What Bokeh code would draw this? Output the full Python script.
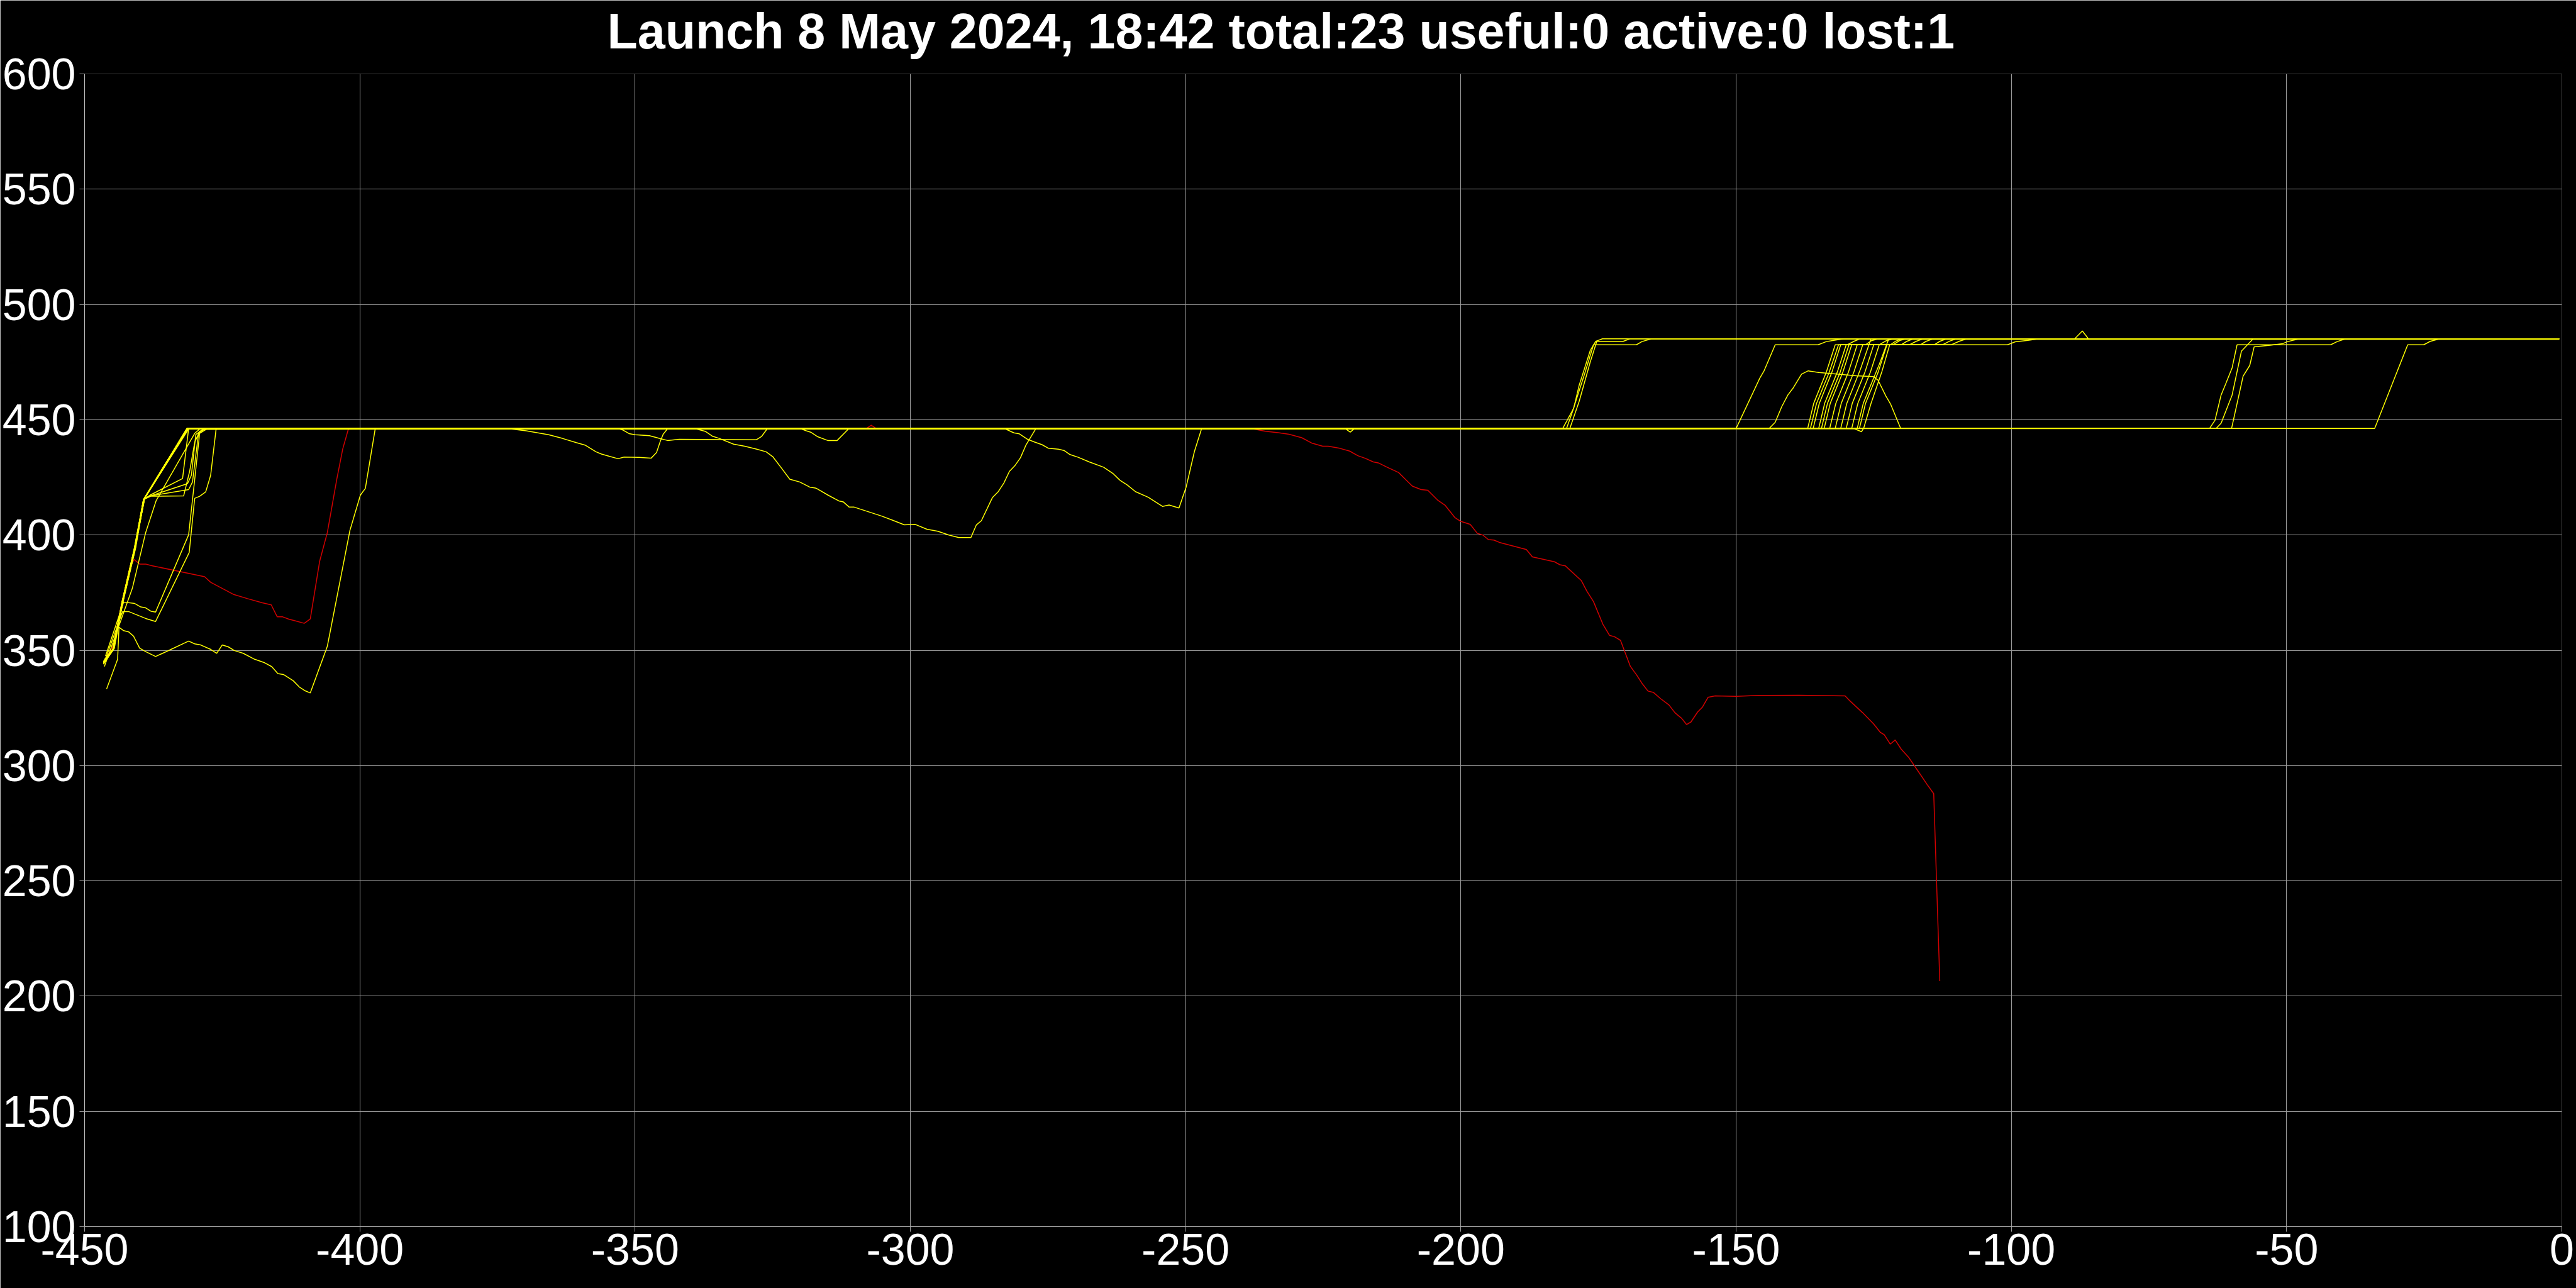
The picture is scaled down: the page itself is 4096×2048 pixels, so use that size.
from bokeh.plotting import figure
from bokeh.models import Range1d, FixedTicker, Title
from bokeh.embed import file_html
from bokeh.resources import INLINE

TITLE = "Launch 8 May 2024, 18:42 total:23 useful:0 active:0 lost:1"
X_TICKS = [-450, -400, -350, -300, -250, -200, -150, -100, -50, 0]
X_LABELS = ["-450", "-400", "-350", "-300", "-250", "-200", "-150", "-100", "-50", "0"]
Y_TICKS = [100, 150, 200, 250, 300, 350, 400, 450, 500, 550, 600]
Y_LABELS = ["100", "150", "200", "250", "300", "350", "400", "450", "500", "550", "600"]

# ---- lost object (red) ----
lost_x = [-446.3, -444.8, -443.3, -441.8, -441.0, -440.0, -438.9, -437.8, -428.2, -427.1, -423.0, -420.4,
          -417.7, -416.1, -415.0, -414.0, -412.9, -411.8, -410.1, -409.0, -407.3, -405.9, -404.2, -403.1,
          -402.1, -401.5, -308.0, -307.1, -306.2, -237.9, -235.5, -233.2, -231.2, -228.9, -227.1, -225.1,
          -224.1, -222.0, -220.2, -218.7, -217.4, -215.9, -214.9, -213.4, -211.3, -210.0, -208.8, -207.2,
          -206.0, -204.2, -202.9, -201.1, -200.1, -198.3, -197.0, -196.0, -195.0, -194.0, -193.0, -188.1,
          -187.0, -183.0, -182.0, -181.0, -178.1, -177.1, -175.9, -174.2, -173.0, -172.1, -171.0, -169.2,
          -168.1, -167.1, -166.0, -165.0, -163.7, -162.2, -161.1, -159.9, -159.0, -158.2, -157.0, -156.1,
          -155.1, -153.8, -150.0, -146.0, -138.6, -130.2, -129.3, -127.0, -125.0, -123.8, -123.1, -122.0,
          -121.1, -120.0, -118.6, -115.3, -114.1, -113.0]
lost_y = [346.0, 352.0, 370.0, 385.8, 389.4, 387.4, 387.4, 386.7, 381.9, 379.5, 374.3, 372.4,
          370.6, 369.7, 364.5, 364.5, 363.5, 362.8, 361.7, 363.6, 388.6, 401.1, 424.0, 437.4,
          445.8, 446.2, 446.2, 447.6, 446.2, 446.1, 445.0, 444.4, 443.7, 442.2, 439.9, 438.5,
          438.5, 437.6, 436.4, 434.4, 433.3, 431.7, 431.2, 429.4, 427.1, 424.0, 421.2, 419.7,
          419.4, 415.1, 413.0, 407.6, 406.0, 404.6, 400.7, 400.0, 398.0, 397.8, 396.8, 393.7,
          390.5, 388.4, 387.1, 386.6, 380.2, 375.6, 371.1, 361.3, 356.5, 355.9, 354.3, 343.0,
          339.4, 335.7, 332.3, 331.7, 329.0, 326.3, 322.9, 320.5, 317.8, 318.9, 323.2, 325.4,
          329.6, 330.2, 330.0, 330.4, 330.5, 330.2, 328.0, 322.9, 318.0, 314.4, 313.4, 309.3,
          311.1, 307.1, 303.4, 291.8, 287.8, 206.5]

# ---- objects (yellow) ----
y1_x = [-446.6, -444.8, -443.1, -440.9, -439.2, -431.3, -372.9, -369.8, -365.7, -363.2, -360.7, -359.1,
        -357.1, -356.1, -354.8, -353.1, -352.0, -349.4, -347.1, -346.1, -345.4, -344.9, -344.1, -181.5,
        -179.5, -178.5, -176.5, -175.5, -174.3, -88.5, -87.1, -86.0, -0.5]
y1_y = [345.0, 350.4, 371.4, 394.4, 415.6, 446.2, 446.1, 445.2, 443.5, 441.9, 440.1, 439.0,
        436.1, 435.1, 434.2, 433.1, 433.8, 433.7, 433.3, 435.8, 440.8, 443.7, 446.1, 446.2,
        455.0, 465.0, 480.0, 484.0, 485.1, 485.1, 488.5, 485.1, 485.1]

y2_x = [-446.5, -444.9, -443.0, -440.8, -439.3, -431.4, -353.0, -352.2, -351.1, -350.0, -347.4, -345.6,
        -344.1, -342.0, -328.0, -327.0, -326.0, -137.0, -135.9, -133.6, -132.0, -129.8, -128.6, -127.5, -0.5]
y2_y = [344.2, 350.0, 371.0, 394.0, 415.2, 446.3, 446.1, 445.5, 444.0, 443.5, 443.1, 441.9,
        441.0, 441.5, 441.3, 442.8, 446.1, 446.2, 457.1, 470.7, 482.5, 482.5, 484.0, 485.1, 485.1]

y3_x = [-446.4, -444.7, -443.0, -440.8, -439.2, -438.1, -432.2, -431.1, -180.8, -179.8, -177.5, -175.9,
        -168.1, -167.1, -165.4, -0.5]
y3_y = [346.0, 351.0, 372.0, 395.0, 415.6, 417.3, 424.5, 446.2, 446.2, 453.0, 470.0, 482.5,
        482.5, 483.9, 485.1, 485.0]

y4_x = [-446.5, -444.8, -443.1, -440.9, -439.1, -438.0, -431.3, -430.6, -429.8, -428.5, -319.9, -318.9,
        -318.1, -316.8, -315.0, -313.3, -311.2, -136.5, -135.4, -133.1, -131.4, -126.5, -125.5, -124.3, -0.5]
y4_y = [344.8, 350.2, 371.2, 394.2, 415.8, 417.0, 422.3, 425.9, 443.6, 445.8, 446.1, 445.2,
        444.6, 442.6, 441.0, 441.0, 446.1, 446.2, 457.0, 470.5, 482.5, 482.5, 484.2, 485.0, 485.0]

y5_x = [-446.3, -444.6, -443.0, -440.7, -439.2, -438.0, -431.1, -430.4, -429.3, -428.2, -150.0, -145.7,
        -144.9, -142.9, -135.1, -133.6, -132.1, -130.5, -0.5]
y5_y = [345.5, 350.8, 371.6, 394.6, 415.5, 417.0, 419.7, 423.0, 444.1, 446.0, 446.2, 468.0,
        471.3, 482.5, 482.5, 483.9, 484.5, 485.1, 485.1]

y6_x = [-446.6, -444.9, -443.2, -440.9, -439.3, -438.0, -432.0, -430.9, -430.0, -429.1, -427.8, -339.0,
        -337.2, -335.9, -334.7, -332.1, -330.1, -328.0, -326.2, -325.0, -323.4, -321.9, -320.1, -318.3,
        -317.1, -314.8, -313.0, -312.2, -311.1, -310.2, -305.2, -303.2, -301.1, -299.1, -297.0, -295.0,
        -293.0, -291.2, -289.0, -288.0, -287.1, -285.1, -284.0, -283.0, -282.0, -281.0, -280.0, -279.0,
        -277.2, -136.0, -134.9, -132.6, -131.0, -121.5, -120.3, -119.2, -0.5]
y6_y = [344.5, 350.0, 371.0, 394.0, 415.4, 416.8, 417.0, 427.8, 440.2, 445.0, 446.0, 446.1,
        444.9, 442.8, 441.9, 439.4, 438.5, 437.3, 436.1, 434.0, 429.0, 424.2, 423.0, 420.8,
        420.3, 417.1, 414.8, 414.4, 412.1, 412.1, 408.2, 406.4, 404.4, 404.6, 402.5, 401.6,
        400.0, 398.9, 398.9, 404.4, 406.2, 416.2, 418.9, 422.6, 427.6, 430.1, 433.5, 439.0,
        446.1, 446.2, 457.0, 470.6, 482.5, 482.5, 484.3, 485.1, 485.1]

y7_x = [-446.2, -442.9, -440.9, -439.8, -438.9, -437.9, -437.1, -431.1, -430.0, -429.1, -427.8, -135.0,
        -133.9, -131.6, -130.0, -120.0, -119.0, -117.8, -0.5]
y7_y = [347.5, 370.9, 370.3, 368.8, 368.4, 366.9, 366.6, 400.1, 424.0, 444.1, 446.0, 446.2,
        457.2, 470.8, 482.5, 482.5, 484.0, 485.1, 485.1]

y8_x = [-446.3, -443.1, -442.0, -438.9, -437.1, -431.0, -430.0, -429.1, -428.0, -427.1, -426.1, -282.8,
        -281.2, -280.2, -278.7, -277.4, -276.1, -274.9, -273.1, -272.1, -271.0, -269.5, -267.5, -264.9,
        -263.2, -261.9, -260.6, -259.1, -256.8, -254.2, -253.0, -251.2, -249.9, -248.4, -247.1, -134.5,
        -133.4, -131.1, -129.5, -116.5, -115.5, -114.3, -0.5]
y8_y = [345.6, 366.8, 366.8, 363.8, 362.5, 392.4, 415.9, 416.8, 418.7, 425.9, 446.2, 446.1,
        444.3, 443.9, 441.5, 440.3, 439.2, 437.6, 437.2, 436.7, 434.9, 433.7, 431.7, 429.4,
        426.7, 423.7, 421.7, 418.8, 416.4, 412.4, 413.0, 411.7, 420.8, 436.2, 446.1, 446.2,
        457.1, 470.6, 482.5, 482.5, 484.0, 485.0, 485.0]

y9_x = [-446.0, -444.0, -443.75, -442.9, -442.0, -441.1, -440.0, -438.9, -437.1, -435.2, -431.1, -430.0,
        -428.9, -427.1, -426.0, -425.0, -423.9, -422.8, -421.2, -419.1, -417.3, -416.0, -414.9, -413.8,
        -412.1, -411.0, -409.9, -409.0, -405.9, -401.8, -399.9, -399.0, -397.2, -34.0, -28.0, -25.1,
        -23.9, -22.2, -0.5]
y9_y = [333.2, 346.1, 360.0, 358.5, 358.0, 356.1, 350.9, 349.4, 347.3, 349.4, 354.0, 352.8,
        352.3, 350.4, 348.7, 352.3, 351.5, 349.9, 348.7, 346.1, 344.6, 342.9, 339.9, 339.4,
        336.8, 334.1, 332.4, 331.5, 351.8, 402.0, 417.3, 420.2, 446.2, 446.2, 482.5, 482.5,
        484.0, 485.1, 485.1]

y10_x = [-446.4, -441.3, -438.9, -437.0, -430.0, -429.0, -180.2, -178.5, -176.5, -175.3, -170.5, -169.3, -0.5]
y10_y = [343.0, 377.1, 401.1, 414.9, 444.1, 446.1, 446.2, 458.0, 475.0, 484.0, 484.0, 485.1, 485.1]

y11_x = [-446.5, -444.8, -443.1, -440.9, -439.2, -431.2, -144.0, -142.9, -141.7, -140.6, -139.6, -138.1,
         -136.9, -135.0, -132.7, -128.2, -125.1, -124.2, -122.8, -121.9, -120.1, -64.0, -63.0, -61.9,
         -61.1, -59.9, -59.0, -42.0, -40.8, -39.3, -0.5]
y11_y = [345.3, 350.6, 371.5, 394.5, 415.7, 446.1, 446.2, 448.9, 455.7, 460.7, 463.9, 469.8,
         471.2, 470.5, 470.0, 469.1, 468.7, 467.1, 460.3, 456.6, 446.2, 446.2, 449.8, 460.7,
         465.3, 472.5, 482.5, 482.5, 483.9, 485.1, 485.1]

y12_x = [-446.4, -444.7, -443.0, -440.8, -439.1, -431.0, -221.0, -220.1, -219.3, -62.8, -61.9, -59.9,
         -58.2, -56.1, -0.5]
y12_y = [345.8, 351.0, 371.8, 394.8, 415.9, 446.3, 446.2, 444.6, 446.2, 446.2, 448.5, 460.7,
         479.8, 485.0, 485.0]

y13_x = [-446.6, -444.9, -443.2, -441.0, -439.3, -431.4, -60.0, -57.9, -56.7, -55.9, -53.0, -50.7,
         -49.8, -47.7, -0.5]
y13_y = [344.0, 349.8, 370.8, 393.8, 415.3, 446.0, 446.2, 468.9, 473.5, 481.6, 482.3, 483.0,
         483.9, 485.1, 485.1]

y14_x = [-446.5, -444.8, -443.1, -440.9, -439.2, -431.3, -134.0, -132.9, -130.6, -129.0, -114.0, -113.0, -111.8, -0.5]
y14_y = [345.2, 350.5, 371.4, 394.4, 415.6, 446.2, 446.2, 457.1, 470.7, 482.5, 482.5, 484.0, 485.1, 485.1]

y15_x = [-446.5, -444.8, -443.1, -440.9, -439.2, -431.3, -133.0, -131.9, -129.6, -128.0, -110.9, -109.5, -108.1, -0.5]
y15_y = [344.7, 350.2, 371.2, 394.2, 415.4, 446.1, 446.2, 457.0, 470.6, 482.5, 482.5, 484.0, 485.1, 485.1]

y16_x = [-446.4, -444.7, -443.0, -440.8, -439.2, -431.2, -132.0, -130.9, -128.6, -127.0, -100.7, -99.3, -97.0, -95.0, -0.5]
y16_y = [345.4, 350.7, 371.6, 394.6, 415.8, 446.2, 446.2, 457.1, 470.7, 482.5, 482.5, 483.8, 484.4, 485.1, 485.1]

y17_x = [-446.6, -444.9, -443.1, -440.9, -439.3, -431.4, -131.0, -129.9, -127.4, -125.5, -0.5]
y17_y = [344.9, 350.3, 371.3, 394.3, 415.5, 446.2, 446.2, 457.0, 472.0, 485.0, 485.0]

y18_x = [-446.5, -444.8, -443.1, -440.9, -439.2, -431.3, -130.0, -128.9, -126.6, -125.0, -124.0, -122.8, -121.5, -0.5]
y18_y = [345.1, 350.4, 371.3, 394.3, 415.6, 446.3, 446.2, 457.1, 470.6, 482.5, 482.5, 484.2, 485.1, 485.1]

y19_x = [-446.4, -444.7, -443.0, -440.8, -439.1, -431.2, -129.0, -127.9, -125.6, -124.0, -122.0, -121.0, -119.8, -0.5]
y19_y = [345.6, 350.9, 371.7, 394.7, 415.8, 446.1, 446.2, 457.0, 470.7, 482.5, 482.5, 484.1, 485.1, 485.1]

y20_x = [-446.6, -444.9, -443.2, -441.0, -439.3, -431.4, -128.0, -126.9, -124.0, -122.3, -0.5]
y20_y = [344.3, 349.9, 370.9, 393.9, 415.2, 446.2, 446.2, 457.1, 474.0, 484.9, 484.9]

y21_x = [-446.5, -444.8, -443.1, -440.9, -439.2, -431.3, -127.6, -126.5, -124.2, -122.6, -118.5, -117.3, -116.0, -0.5]
y21_y = [345.0, 350.3, 371.3, 394.3, 415.5, 446.1, 446.2, 457.0, 470.6, 482.5, 482.5, 484.0, 485.1, 485.1]

y22_x = [-446.5, -444.8, -443.1, -440.9, -439.2, -431.3, -128.5, -127.2, -126.8, -125.5, -123.5, -122.1,
         -112.5, -111.2, -110.0, -0.5]
y22_y = [345.3, 350.6, 371.5, 394.5, 415.7, 446.2, 446.1, 444.8, 446.5, 457.0, 471.0, 482.5,
         482.5, 484.1, 485.1, 485.1]

tracks = [
    (y1_x, y1_y), (y2_x, y2_y), (y3_x, y3_y), (y4_x, y4_y), (y5_x, y5_y), (y6_x, y6_y),
    (y7_x, y7_y), (y8_x, y8_y), (y9_x, y9_y), (y10_x, y10_y), (y11_x, y11_y), (y12_x, y12_y),
    (y13_x, y13_y), (y14_x, y14_y), (y15_x, y15_y), (y16_x, y16_y), (y17_x, y17_y), (y18_x, y18_y),
    (y19_x, y19_y), (y20_x, y20_y), (y21_x, y21_y), (y22_x, y22_y),
]

p = figure(width=4096, height=2048, output_backend="svg", toolbar_location=None,
           x_range=Range1d(-450, 0), y_range=Range1d(100, 600),
           min_border_left=132, min_border_right=23, min_border_top=117, min_border_bottom=98)

p.background_fill_color = "black"
p.border_fill_color = "black"
p.outline_line_color = None

# thin spacer between the frame and the title, then the title itself
p.add_layout(Title(text=" ", text_font_size="10px", standoff=9, text_color="black"), "above")
p.add_layout(Title(text=TITLE, align="left", offset=831, vertical_align="top", standoff=0,
                   text_font_size="79px", text_font="Liberation Sans",
                   text_font_style="bold", text_color="white"), "above")

grid_color = "#9c9c9c"
for ax in (p.xaxis[0], p.yaxis[0]):
    ax.axis_line_color = "#bdbdbd"
    ax.axis_line_width = 1
    ax.major_tick_line_color = grid_color
    ax.major_tick_out = 8
    ax.major_tick_in = 0
    ax.minor_tick_line_color = None
    ax.major_label_text_color = "white"
    ax.major_label_text_font = "Liberation Sans"
    ax.major_label_text_font_size = "70px"

p.xaxis[0].ticker = FixedTicker(ticks=X_TICKS)
p.yaxis[0].ticker = FixedTicker(ticks=Y_TICKS)
p.xaxis[0].major_label_overrides = {t: l for t, l in zip(X_TICKS, X_LABELS)}
p.yaxis[0].major_label_overrides = {t: l for t, l in zip(Y_TICKS, Y_LABELS)}
p.xaxis[0].major_label_standoff = 3
p.yaxis[0].major_label_standoff = 6

p.xgrid[0].ticker = FixedTicker(ticks=X_TICKS)
p.ygrid[0].ticker = FixedTicker(ticks=Y_TICKS)
p.xgrid.grid_line_color = grid_color
p.ygrid.grid_line_color = grid_color
p.xgrid.grid_line_width = 1
p.ygrid.grid_line_width = 1

p.line(lost_x, lost_y, line_color="#d40000", line_width=1.5)
for tx, ty in tracks:
    p.line(tx, ty, line_color="#ffff00", line_width=1.5)

open("out.html", "w").write(file_html(p, INLINE))
